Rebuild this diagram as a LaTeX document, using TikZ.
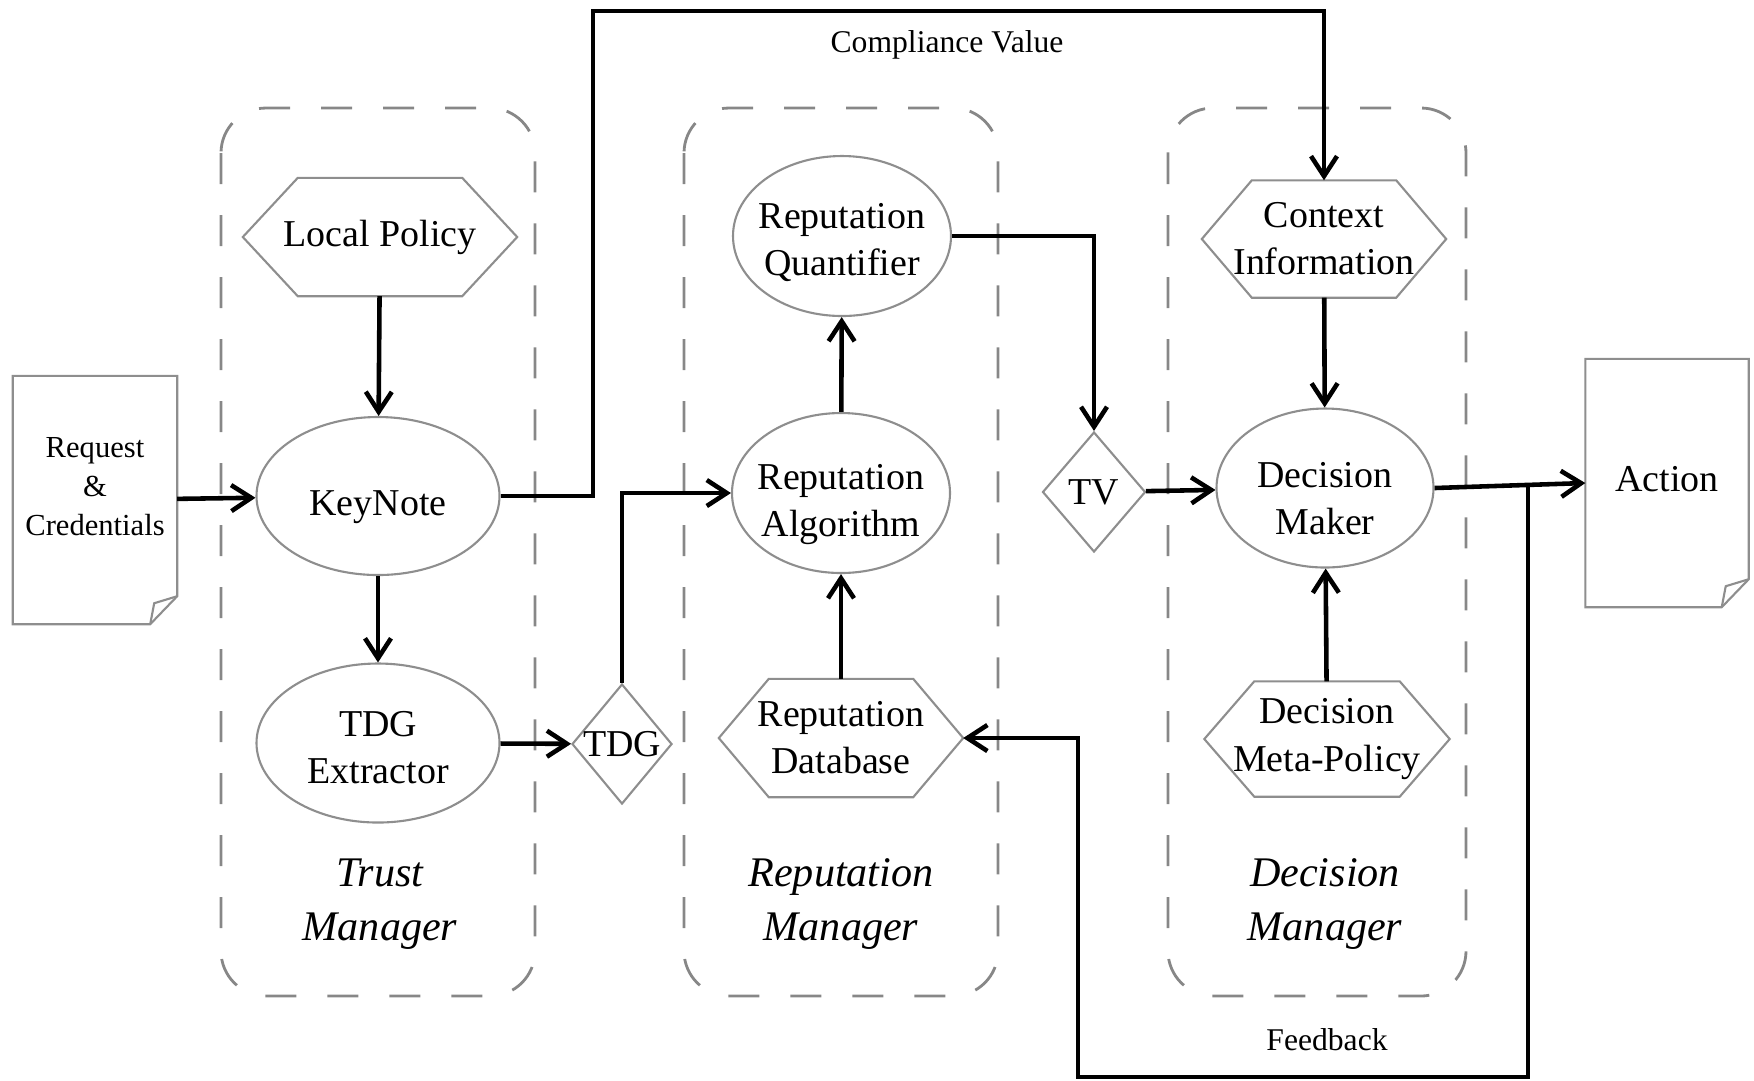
\documentclass[tikz,border=0pt]{standalone}
\usepackage{fontspec}
\setmainfont{Liberation Serif}
\usepackage{tikz}
\usetikzlibrary{ arrows.meta, calc, positioning, shapes.geometric, }

\definecolor{shapegray}{HTML}{8E8E8E}
\definecolor{zonegray}{HTML}{878787}

\newcommand{\boxfont}{\fontsize{10.8}{13.4}\selectfont}
\newcommand{\zonefont}{\fontsize{12}{15.4}\selectfont\itshape}
\newcommand{\notefont}{\fontsize{9}{11}\selectfont}
\newcommand{\reqfont}{\fontsize{8.7}{11.1}\selectfont}

% hexagon drawn round a (plain) node
\newcommand{\hexline}[2][5mm]{%
  \draw[shapeline] (#2.west) -- ([xshift=#1]#2.north west) -- ([xshift=-#1]#2.north east)
    -- (#2.east) -- ([xshift=-#1]#2.south east) -- ([xshift=#1]#2.south west) -- cycle;}
% sheet of paper with a folded corner
\newcommand{\docline}[1]{%
  \draw[shapeline] (#1.north west) -- (#1.north east) -- ([yshift=2.8mm]#1.south east)
    -- ([xshift=-2.7mm]#1.south east) -- (#1.south west) -- cycle;
  \draw[shapeline] ([yshift=2.8mm]#1.south east) -- ([xshift=-2.3mm,yshift=2.1mm]#1.south east)
    -- ([xshift=-2.7mm]#1.south east);}

\tikzset{
>={Straight Barb[length=2mm,width=2.6mm]}, % open arrow heads
every node/.style={inner sep=1pt},
flow/.style={line width=1.3pt}, % the black connectors
shapeline/.style={draw=shapegray, line width=0.6pt},
zone/.style={draw=zonegray, line width=0.8pt, dash pattern=on 3.1mm off 3.1mm, rounded corners=4.5mm},
textdrop/.style={execute at begin node={\rule{0pt}{#1}}}, % sets the text a bit lower
blob/.style={ellipse, shapeline, inner xsep=-2mm, inner ysep=0pt, minimum width=21.8mm, minimum height=16mm, align=center, font=\boxfont},
hexa/.style={rectangle, minimum width=24.3mm, minimum height=11.6mm, inner sep=0pt, align=center, font=\boxfont},
diam/.style={diamond, shapeline, inner sep=-1mm, minimum width=10mm, minimum height=12mm, font=\boxfont},
doc/.style={rectangle, minimum width=16.3mm, minimum height=24.7mm, inner sep=0pt, align=center, font=\boxfont},
reqtext/.style={align=center, font=\reqfont, yshift=1.3mm},
zonetitle/.style={align=center, font=\zonefont},
note/.style={font=\notefont},
}

\begin{document}
\begin{tikzpicture}[x=0.1mm, y=-0.1mm]
  \useasboundingbox (0,0) rectangle (1754,1080);

  % Managers
  \draw[zone] (221,108) rectangle (535,996);
  \draw[zone] (684,108) rectangle (998,996);
  \draw[zone] (1168,108) rectangle (1466,996);
  \node[zonetitle] at (380,904) (trusttitle) {Trust\\Manager};
  \node[zonetitle] at (841,904) (reptitle) {Reputation\\Manager};
  \node[zonetitle] at (1325,904) (dectitle) {Decision\\Manager};

  % Trust Manager
  \node[doc, label={[reqtext]center:Request\\\&\\Credentials}] at (95,500) (req) {};
  \node[hexa, minimum width=27.3mm, minimum height=11.7mm, yshift=-0.2mm] at (380,235) (lp) {Local Policy};
  \node[blob, minimum width=24.3mm, minimum height=15.8mm, textdrop=4.7mm] at (378,496) (kn) {KeyNote};
  \node[blob, minimum width=24.3mm, minimum height=15.9mm, textdrop=8.1mm] at (378,743) (tdgx) {TDG\\Extractor};
  \node[diam] at (622,744) (tdg) {TDG};

  % Reputation Manager
  \node[blob, textdrop=8.6mm] at (842,236) (rq) {Reputation\\Quantifier};
  \node[blob, textdrop=9.6mm] at (841,493) (ra) {Reputation\\Algorithm};
  \node[hexa, minimum height=11.7mm] at (841,738) (rdb) {Reputation\\Database};
  \node[diam, minimum width=10.3mm] at (1094,492) (tv) {TV};

  % Decision Manager
  \node[hexa] at (1324,239) (ctx) {Context\\Information};
  \node[blob, minimum width=21.7mm, minimum height=15.9mm, textdrop=9.4mm] at (1325,488) (dm) {Decision\\Maker};
  \node[hexa, minimum width=24.4mm, minimum height=11.4mm] at (1327,739) (meta) {Decision\\Meta-Policy};
  \node[doc, minimum width=16.2mm, execute at end node={\rule[-0.9mm]{0pt}{0pt}}] at (1667,483) (act) {Action};

  \hexline[5.5mm]{lp}
  \hexline{rdb}
  \hexline{ctx}
  \hexline{meta}
  \docline{req}
  \docline{act}

  \node[note] at (947,45) (cv) {Compliance Value};
  \node[note] at (1327,1040) (fbtext) {Feedback};

  % Connectors
  \draw[flow,->] (req) -- (kn);
  \draw[flow,->] (lp) -- (kn);
  \draw[flow,->] (kn) -- (tdgx);
  \draw[flow,->] (tdgx) -- (tdg);
  \draw[flow,->] (tdg.north) |- (ra.west);
  \draw[flow,->] (ra) -- (rq);
  \draw[flow,->] (rdb) -- (ra);
  \draw[flow,->] (rq.east) -| (tv.north);
  \draw[flow,->] (tv) -- (dm);
  \draw[flow,->] (ctx) -- (dm);
  \draw[flow,->] (meta) -- (dm);
  \draw[flow,->] (dm.east) -- (act.west);
  \draw[flow,->] (kn.east) -| (593,11) -| (ctx.north);

  % Feedback
  \coordinate (fb) at ($(dm.east)!0.62!(act.west)$);
  \draw[flow,->] (fb) |- (1078,1077) |- (rdb.east);
\end{tikzpicture}
\end{document}
